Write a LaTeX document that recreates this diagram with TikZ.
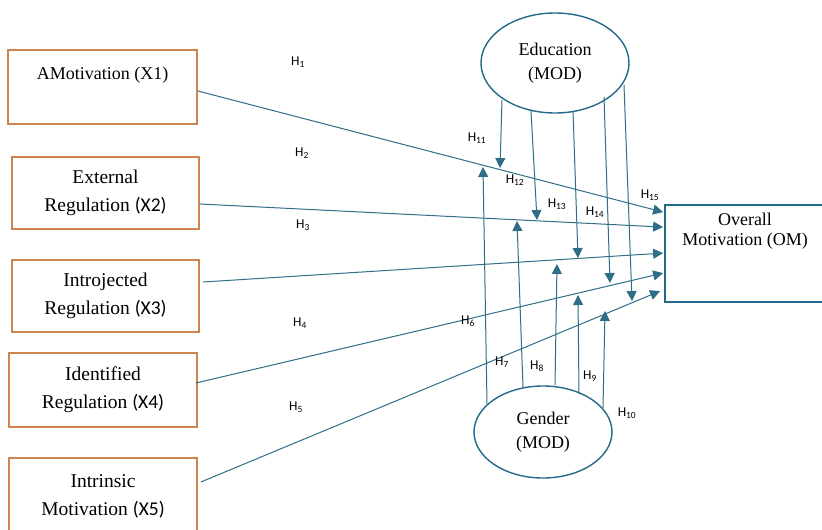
\documentclass[tikz,border=0pt]{standalone}
\usepackage{fontspec}
\setmainfont{Liberation Serif}
\newfontfamily\hfont{Carlito}
\usetikzlibrary{arrows.meta,shapes.geometric,calc}
\definecolor{boxor}{HTML}{CD8450}
\definecolor{teal}{HTML}{23698A}
\definecolor{lineteal}{HTML}{2F6E86}
\newcommand{\xs}[1]{{\hfont #1}}
\newcommand{\hl}[1]{H\textsubscript{#1}}
\begin{document}
\begin{tikzpicture}[x=1pt,y=-1pt,
  box/.style={draw=boxor, line width=1.8pt, rectangle, inner sep=0pt, align=center,
     font=\fontsize{19.5}{28}\selectfont},
  modell/.style={draw=teal, line width=1.4pt, ellipse, inner sep=0pt, align=center,
     font=\fontsize{18}{24}\selectfont},
  hyp/.style={font=\hfont\fontsize{13.5}{15}\selectfont, inner sep=0pt},
  arr/.style={draw=lineteal, line width=1pt, -{Triangle[length=10pt,width=10pt]}},
]
\useasboundingbox (0,0) rectangle (822,530);
% predictor boxes
\node[box, font=\fontsize{18}{28}\selectfont, minimum width=189pt, minimum height=74pt] (b1) at (102.5,87) {AMotivation (X1)\\\mbox{}};
\node[box, minimum width=187pt, minimum height=72pt] (b2) at (105.5,193) {External\\Regulation \xs{(X2)}};
\node[box, minimum width=187pt, minimum height=72pt] (b3) at (105.5,296) {Introjected\\Regulation \xs{(X3)}};
\node[box, minimum width=188pt, minimum height=74pt] (b4) at (103,390) {Identified\\Regulation \xs{(X4)}};
\node[box, minimum width=188pt, minimum height=76pt] (b5) at (103,496) {Intrinsic\\Motivation \xs{(X5)}};
% outcome box
\node[draw=teal, line width=1.8pt, rectangle, minimum width=175pt, minimum height=97pt, inner sep=0pt] (om) at (752.5,253.5) {};
\node[align=center, font=\fontsize{18}{20}\selectfont, inner sep=0pt] (omt) at (745,231) {Overall\\Motivation (OM)};
% moderators
\node[modell, minimum width=148pt, minimum height=100pt] (edu) at (555,63) {Education\\(MOD)};
\node[modell, minimum width=138pt, minimum height=92pt] (gen) at (543,432) {Gender\\(MOD)};

% main paths
\draw[arr] ($(b1.east)+(0,4)$) -- ($(om.north west)+(-1,8)$);
\draw[arr] ($(b2.east)+(0,11)$) -- ($(om.north west)+(-1,23)$);
\draw[arr] ($(b3.east)+(3,-14)$) -- ($(om.north west)+(-1,49)$);
\draw[arr] ($(b4.east)+(-2,-7)$) -- ($(om.north west)+(-1,69)$);
\draw[arr] ($(b5.east)+(3,-14)$) -- ($(om.north west)+(-4,87)$);

% education moderation tips
\coordinate (t11) at (500,168);
\coordinate (t12) at (537,220);
\coordinate (t13) at (578,258);
\coordinate (t14) at (610,283);
\coordinate (t15) at (632,301);
\draw[arr] ($(edu.center)+(-53,37)$) -- (t11);
\draw[arr] ($(edu.center)+(-24,48)$) -- (t12);
\draw[arr] ($(edu.center)+(18,48)$) -- (t13);
\draw[arr] ($(edu.center)+(49,34)$) -- (t14);
\draw[arr] ($(edu.center)+(69,22)$) -- (t15);

% gender moderation tips
\coordinate (g7) at (483,167);
\coordinate (g8) at (517,221);
\coordinate (g9) at (557,264);
\coordinate (g10) at (578,295);
\coordinate (g11) at (605,311);
\draw[arr] ($(gen.center)+(-56,-28)$) -- (g7);
\draw[arr] ($(gen.center)+(-20,-45)$) -- (g8);
\draw[arr] ($(gen.center)+(12,-47)$) -- (g9);
\draw[arr] ($(gen.center)+(36,-38)$) -- (g10);
\draw[arr] ($(gen.center)+(60,-24)$) -- (g11);

% hypothesis labels
\node[hyp] (h1) at (298,62) {\hl{1}};
\node[hyp] (h2) at (302,153) {\hl{2}};
\node[hyp] (h3) at (303,225) {\hl{3}};
\node[hyp] (h4) at (300,323) {\hl{4}};
\node[hyp] (h5) at (296,407) {\hl{5}};
\node[hyp] (h6) at (468,321) {\hl{6}};
\node[hyp] (h7) at (502,362) {\hl{7}};
\node[hyp] (h8) at (537,366) {\hl{8}};
\node[hyp] (h9) at (590,376) {\hl{9}};
\node[hyp] (h10) at (627,413) {\hl{10}};
\node[hyp] (h11) at (477,138) {\hl{11}};
\node[hyp] (h12) at (515,180) {\hl{12}};
\node[hyp] (h13) at (557,204) {\hl{13}};
\node[hyp] (h14) at (595,212) {\hl{14}};
\node[hyp] (h15) at (650,195) {\hl{15}};
\end{tikzpicture}
\end{document}
